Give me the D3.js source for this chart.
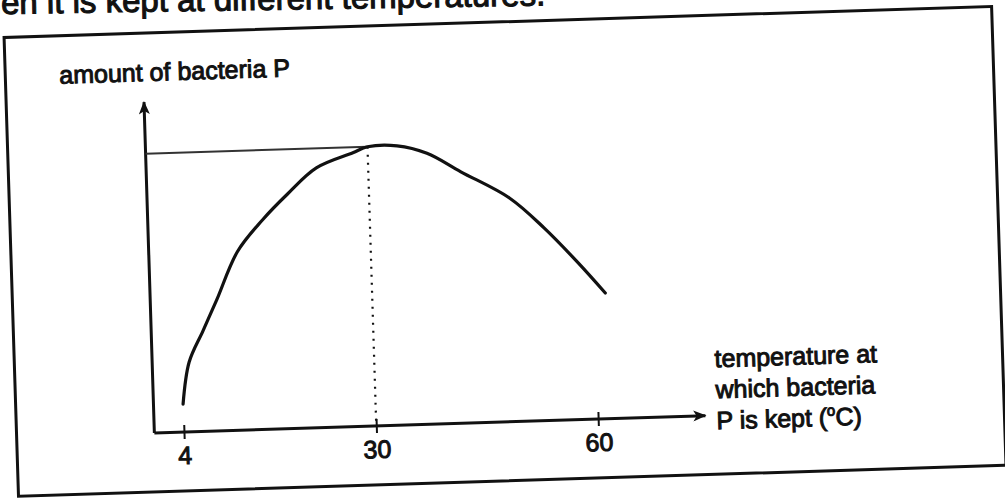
<!DOCTYPE html>
<html>
<head>
<meta charset="utf-8">
<script src="https://cdn.jsdelivr.net/npm/d3@7"></script>
<style>
  html, body { margin: 0; padding: 0; background: #fff; overflow: hidden; }
  svg { display: block; }
  text { font-family: "Liberation Sans", Arial, sans-serif; fill: #111; }
</style>
</head>
<body>
<svg id="chart" width="1005" height="504"></svg>
<script>
// ---- data ----
const temperatures = [4, 5, 7, 9, 12, 15.5, 19, 23, 28, 30, 34, 38, 42.5, 49, 53.5, 58, 61.5];
const amounts      = [10, 25, 36, 47, 64, 75, 84, 93, 98, 100, 100, 97, 90, 80, 69, 56, 45];
const xTickValues  = [4, 30, 60];
const peakTemperature = 30;
const peakAmount = 100;
const yAxisTitle = "amount of bacteria P";
const xAxisTitle = ["temperature at", "which bacteria", "P is kept ("];
const headerText = "when it is kept at different temperatures.";

// ---- layout ----
const svg = d3.select("#chart");
const ink = "#111";

svg.append("defs").append("marker")
  .attr("id", "arrow").attr("viewBox", "0 0 12 10")
  .attr("refX", 11).attr("refY", 5)
  .attr("markerWidth", 14).attr("markerHeight", 11)
  .attr("markerUnits", "userSpaceOnUse")
  .attr("orient", "auto")
  .append("path").attr("d", "M0,0 L12,5 L0,10 L3,5 Z").attr("fill", ink);

// header line of the question (cut off by the page top, as in the scan)
svg.append("text")
  .attr("x", -41).attr("y", 14)
  .attr("transform", "rotate(-0.9,0,14)")
  .attr("font-size", 33)
  .attr("stroke", ink).attr("stroke-width", 1.1)
  .text(headerText);

const g = svg.append("g").attr("transform", "rotate(-1.8,500,250)");

// frame
g.append("rect")
  .attr("x", 11).attr("y", 22).attr("width", 988).attr("height", 459)
  .attr("fill", "none").attr("stroke", ink).attr("stroke-width", 3);

const x = d3.scaleLinear().domain([0, 74.5]).range([148.8, 148.8 + 74.5 * 7.4]);
const y = d3.scaleLinear().domain([0, 118.5]).range([422, 91]);
const xMax = 74.5, yMax = 118.5;

// axes with arrows
g.append("line")
  .attr("x1", x(0)).attr("y1", y(0)).attr("x2", x(xMax)).attr("y2", y(0))
  .attr("stroke", ink).attr("stroke-width", 3).attr("marker-end", "url(#arrow)");
g.append("line")
  .attr("x1", x(0)).attr("y1", y(0)).attr("x2", x(0)).attr("y2", y(yMax))
  .attr("stroke", ink).attr("stroke-width", 3).attr("marker-end", "url(#arrow)");

// tick marks and labels using a d3 axis
const xAxis = d3.axisBottom(x).tickValues(xTickValues).tickSize(0).tickPadding(0).tickFormat(d3.format("d"));
const ax = g.append("g").attr("transform", `translate(0,${y(0)})`).call(xAxis);
ax.select(".domain").remove();
ax.selectAll(".tick line").attr("y1", -7).attr("y2", 7).attr("stroke", ink).attr("stroke-width", 2);
ax.selectAll(".tick text")
  .attr("y", 32).attr("dy", 0)
  .attr("font-size", 25).attr("font-family", "Liberation Sans, Arial, sans-serif")
  .attr("fill", ink).attr("stroke", ink).attr("stroke-width", 1);

// guide lines to the peak
g.append("line")
  .attr("x1", x(0)).attr("y1", y(peakAmount)).attr("x2", x(peakTemperature)).attr("y2", y(peakAmount))
  .attr("stroke", "#333").attr("stroke-width", 2);
g.append("line")
  .attr("x1", x(peakTemperature)).attr("y1", y(peakAmount)).attr("x2", x(peakTemperature)).attr("y2", y(0))
  .attr("stroke", ink).attr("stroke-width", 2.2).attr("stroke-dasharray", "2,6");

// the curve
const pts = temperatures.map((t, i) => [t, amounts[i]]);
g.append("path")
  .datum(pts)
  .attr("fill", "none").attr("stroke", ink).attr("stroke-width", 3.2)
  .attr("stroke-linejoin", "round").attr("stroke-linecap", "round")
  .attr("d", d3.line().x(d => x(d[0])).y(d => y(d[1])).curve(d3.curveCatmullRom.alpha(0.5)));

// axis titles
g.append("text")
  .attr("x", 65).attr("y", 70)
  .attr("font-size", 25).attr("stroke", ink).attr("stroke-width", 1)
  .text(yAxisTitle);

const tx = 711, ty = 374;
const xt = g.append("text")
  .attr("x", tx).attr("y", ty)
  .attr("font-size", 25).attr("stroke", ink).attr("stroke-width", 1);
xAxisTitle.forEach((line, i) => {
  xt.append("tspan").attr("x", tx).attr("y", ty + i * 31).text(line);
});
xt.append("tspan").attr("font-size", 15).attr("dy", -10).text("o");
xt.append("tspan").attr("font-size", 25).attr("dy", 10).text("C)");
</script>
</body>
</html>
